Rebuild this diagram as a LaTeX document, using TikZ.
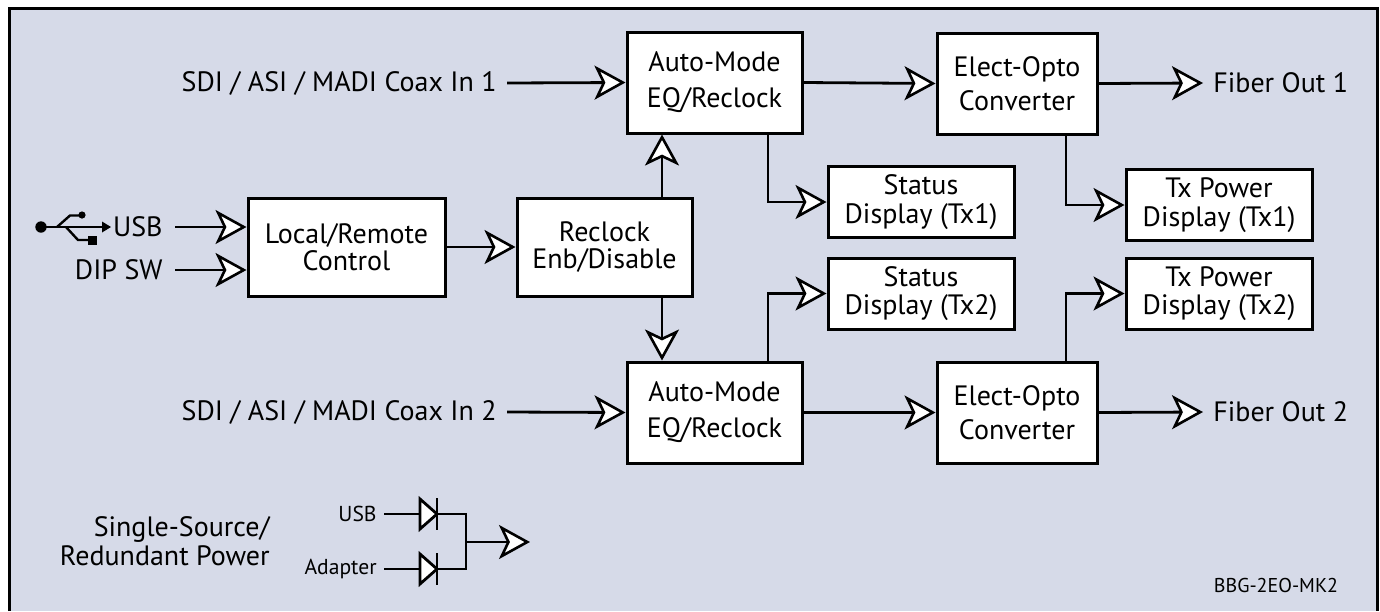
\documentclass[tikz,border=0pt]{standalone}
\usepackage{fontspec}
\setmainfont{PT Sans}
\usetikzlibrary{arrows.meta,calc}
\definecolor{bg}{RGB}{214,218,232}
\begin{document}
\begin{tikzpicture}[x=0.5pt,y=-0.5pt,
  box/.style={draw, line width=1.5pt, fill=white, inner sep=0pt, align=center},
  bigbox/.style={box, minimum width=87.5pt, minimum height=50.5pt},
  dispbox/.style={box, minimum width=93pt, minimum height=35.5pt, font=\fontsize{14}{14.3}\selectfont},
  ctlbox/.style={box, minimum height=49pt, font=\fontsize{14}{13.5}\selectfont},
  lbl/.style={inner sep=0pt, font=\fontsize{14}{15}\selectfont},
  small/.style={inner sep=0pt, font=\fontsize{10.8}{12}\selectfont},
  conn/.style={line width=1.4pt, -{Stealth[length=15.5pt,width=17pt,inset=4pt,fill=white,line width=1.3pt]}},
  wire/.style={line width=1.4pt},
  icon/.style={line width=1.2pt},
]
\useasboundingbox (0,0) rectangle (1380,611);
\fill[bg] (9.5,8.5) rectangle (1377,611);
\draw[line width=1.5pt] (9.5,611) -- (9.5,8.5) -- (1377,8.5) -- (1377,611);

% main blocks
\node[bigbox, font=\fontsize{14}{18}\selectfont] (am1) at (714.5,82.5) {Auto-Mode\\EQ/Reclock};
\node[bigbox, minimum width=80pt, font=\fontsize{14}{17}\selectfont] (eo1) at (1017,83.5) {Elect-Opto\\Converter};
\node[bigbox, font=\fontsize{14}{18}\selectfont] (am2) at (714.5,412.5) {Auto-Mode\\EQ/Reclock};
\node[bigbox, minimum width=80pt, font=\fontsize{14}{17}\selectfont] (eo2) at (1017,412.5) {Elect-Opto\\Converter};
\node[dispbox] (sd1) at (921,202) {Status\\Display (Tx1)};
\node[dispbox] (tp1) at (1219,205) {Tx Power\\Display (Tx1)};
\node[dispbox] (sd2) at (921,293.5) {Status\\Display (Tx2)};
\node[dispbox] (tp2) at (1219,293.5) {Tx Power\\Display (Tx2)};
\node[ctlbox, minimum width=87.5pt] (rc) at (604.5,247) {Reclock\\Enb/Disable};
\node[ctlbox, minimum width=98.5pt] (lr) at (346.5,247) {Local/Remote\\Control};

% labels
\node[lbl, anchor=east, inner xsep=5pt] (in1) at (507,83) {SDI / ASI / MADI Coax In 1};
\node[lbl, anchor=east, inner xsep=5pt] (in2) at (507,412) {SDI / ASI / MADI Coax In 2};
\node[lbl, anchor=west, inner xsep=5pt] (fo1) at (1203,83) {Fiber Out 1};
\node[lbl, anchor=west, inner xsep=5pt] (fo2) at (1203,412) {Fiber Out 2};
\node[lbl, anchor=east, inner xsep=6pt] (usb) at (175,227) {USB};
\node[lbl, anchor=east, inner xsep=6pt] (dip) at (175,270) {DIP SW};

% connectors
\draw[conn] (in1.east) -- (am1.west);
\draw[conn] (am1.east) -- (eo1.west);
\draw[conn] (eo1.east) -- (fo1.west);
\draw[conn] (in2.east) -- (am2.west);
\draw[conn] (am2.east) -- (eo2.west);
\draw[conn] (eo2.east) -- (fo2.west);
\draw[conn] (usb.east) -- (usb.east -| lr.west);
\draw[conn] (dip.east) -- (dip.east -| lr.west);
\draw[conn] (lr.east) -- (rc.west);
\coordinate (rcn) at ($(rc.north)+(57.5,0)$);
\coordinate (rcs) at ($(rc.south)+(57.5,0)$);
\draw[conn] (rcn) -- (rcn |- am1.south);
\draw[conn] (rcs) -- (rcs |- am2.north);
\coordinate (a1s) at ($(am1.south)+(53.5,0)$);
\coordinate (e1s) at ($(eo1.south)+(49,0)$);
\coordinate (a2n) at ($(am2.north)+(53.5,0)$);
\coordinate (e2n) at ($(eo2.north)+(49,0)$);
\draw[conn] (a1s) |- (sd1.west);
\draw[conn] (e1s) |- (tp1.west);
\draw[conn] (a2n) |- (sd2.west);
\draw[conn] (e2n) |- (tp2.west);

% USB icon
\fill (41,227) circle (2.85pt);
\draw[icon] (41,227) -- (104,227);
\fill (102,221.5) -- (111,227) -- (102,232.5) -- cycle;
\draw[icon] (57,227) -- (70,215.5) -- (80,215.5);
\fill (82,215) circle (1.8pt);
\draw[icon] (66,227) -- (78,240) -- (89,240);
\fill (88,236) rectangle (97,244.5);

% power
\node[lbl, align=right, anchor=east, font=\fontsize{14}{14.5}\selectfont] (ps) at (270,541.5) {Single-Source/\\Redundant Power};
\node[small, anchor=east, inner xsep=3.5pt] (pu) at (384,514) {USB};
\node[small, anchor=east, inner xsep=3.5pt] (pa) at (384,569) {Adapter};
\coordinate (d1a) at (420,514);
\coordinate (d1b) at (437,514);
\coordinate (d2a) at (420,569);
\coordinate (d2b) at (437,569);
\coordinate (j1) at (466,514);
\coordinate (j2) at (466,569);
\coordinate (jm) at (466,542);
\coordinate (pout) at (530,542);
\draw[wire] (pu.east) -- (d1a);
\draw[wire] (pa.east) -- (d2a);
\draw[wire, fill=white] (420,499) -- (437,514) -- (420,529) -- cycle;
\draw[wire, fill=white] (420,554) -- (437,569) -- (420,584) -- cycle;
\draw[wire] (437,498) -- (437,530);
\draw[wire] (437,553) -- (437,585);
\draw[wire] (d1b) -- (j1) -- (j2) -- (d2b);
\draw[conn] (jm) -- (pout);

\node[small, font=\fontsize{10}{11}\selectfont] (id) at (1276,585) {BBG-2EO-MK2};
\end{tikzpicture}
\end{document}
